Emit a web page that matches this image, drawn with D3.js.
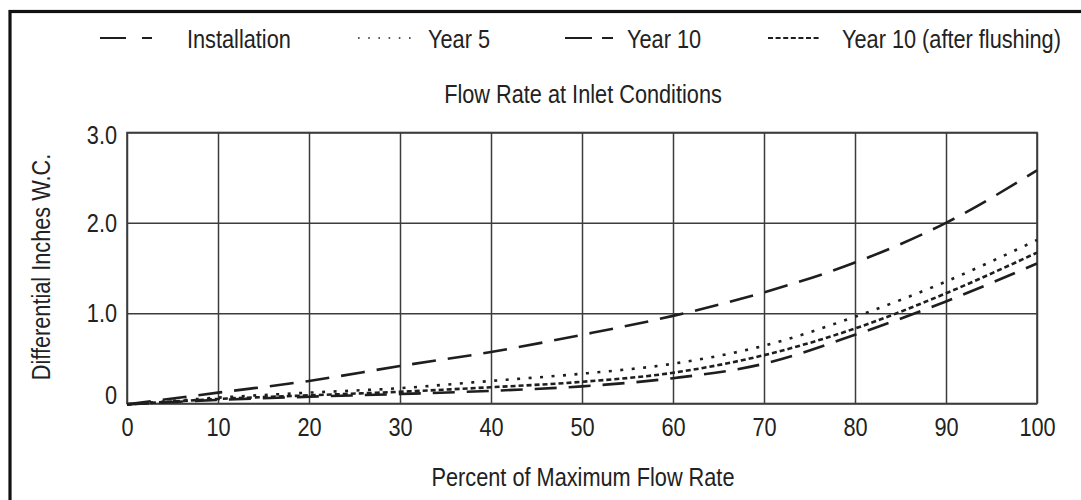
<!DOCTYPE html>
<html>
<head>
<meta charset="utf-8">
<script src="https://cdn.jsdelivr.net/npm/d3@7"></script>
<style>
  html, body { margin: 0; padding: 0; background: #fff; }
  svg text { font-family: "Liberation Sans", Arial, sans-serif; fill: #222; }
</style>
</head>
<body>
<svg id="chart" width="1081" height="500"></svg>
<script>
// ---- data ----
const flowPercent = [0, 10, 20, 30, 40, 50, 60, 70, 80, 90, 100];
const installation = [-0.01, 0.12, 0.25, 0.415, 0.57, 0.76, 0.97, 1.23, 1.56, 2.0, 2.58];
const year5 = [-0.01, 0.065, 0.12, 0.17, 0.25, 0.33, 0.44, 0.64, 0.96, 1.35, 1.81];
const year10 = [-0.01, 0.04, 0.075, 0.105, 0.14, 0.19, 0.28, 0.44, 0.76, 1.13, 1.55];
const year10Flushed = [-0.01, 0.05, 0.09, 0.13, 0.18, 0.24, 0.34, 0.535, 0.83, 1.22, 1.67];
const seriesNames = ["Installation", "Year 5", "Year 10", "Year 10 (after flushing)"];
const xTicks = [0, 10, 20, 30, 40, 50, 60, 70, 80, 90, 100];
const yTicks = [0, 1, 2, 3];
const yTickLabels = ["0", "1.0", "2.0", "3.0"];
const chartTitle = "Flow Rate at Inlet Conditions";
const xTitle = "Percent of Maximum Flow Rate";
const yTitle = "Differential Inches W.C.";

// ---- styling ----
const FS = 26.5;
const NARROW = 0.82; // horizontal squeeze to mimic a condensed face
const ink = "#1e1e1e";
const gridCol = "#3c3c3c";
const seriesData = [installation, year5, year10, year10Flushed];
const seriesDash = ["24,12", "3,8.5", "22,12", "5,3"];
const legendDash = ["26,16,10,100", "1.6,8.6", "27,10,11,100", "5,2.6"];
const legendWidth = [1.9, 1.6, 1.9, 1.9];
const legendLineX = [[100, 152], [358, 411], [565, 613], [768, 821]];
const legendTextX = [187, 428, 627, 842];

const svg = d3.select("#chart");

function narrowText(parent, tx, ty, str, anchor, rot) {
  const t = parent.append("text")
    .attr("transform", `translate(${tx},${ty})` + (rot ? ` rotate(${rot})` : "") + ` scale(${NARROW},1)`)
    .attr("text-anchor", anchor || "start")
    .attr("font-size", FS)
    .text(str);
  return t;
}

// outer frame (only left and top edges visible)
svg.append("rect")
  .attr("x", 10).attr("y", 11.5)
  .attr("width", 1300).attr("height", 700)
  .attr("fill", "none").attr("stroke", "#111").attr("stroke-width", 3.2);

const x = d3.scaleLinear().domain([0, 100]).range([127, 1037]);
const y = d3.scaleLinear().domain([0, 3]).range([403.5, 132.5]);

// grid via axes
const gx = svg.append("g")
  .attr("transform", `translate(0,${y(0)})`)
  .call(d3.axisBottom(x).tickValues(xTicks).tickFormat(d3.format("d"))
    .tickSizeInner(-(y(0) - y(3))).tickSizeOuter(0).tickPadding(14));
gx.select(".domain").remove();
gx.selectAll(".tick line").attr("stroke", gridCol).attr("stroke-width", 1.5);
gx.selectAll(".tick text").attr("font-size", FS).style("fill", "#222")
  .attr("transform", `scale(${NARROW},1)`);

const gy = svg.append("g")
  .attr("transform", `translate(${x(0)},0)`)
  .call(d3.axisLeft(y).tickValues(yTicks).tickFormat((d, i) => yTickLabels[i])
    .tickSizeInner(-(x(100) - x(0))).tickSizeOuter(0).tickPadding(10));
gy.select(".domain").remove();
gy.selectAll(".tick line").attr("stroke", gridCol).attr("stroke-width", 1.5);
gy.selectAll(".tick text").attr("font-size", FS).style("fill", "#222")
  .attr("x", -10 / NARROW)
  .attr("transform", `scale(${NARROW},1)`)
  .attr("dy", d => d === 0 ? "0em" : (d === 3 ? "0.42em" : "0.32em"));

// plot border
svg.append("rect")
  .attr("x", x(0)).attr("y", y(3))
  .attr("width", x(100) - x(0)).attr("height", y(0) - y(3))
  .attr("fill", "none").attr("stroke", gridCol).attr("stroke-width", 1.6);

// curves
const line = d3.line()
  .x((d, i) => x(flowPercent[i]))
  .y(d => y(d))
  .curve(d3.curveMonotoneX);

seriesData.forEach((s, k) => {
  svg.append("path")
    .datum(s)
    .attr("d", line)
    .attr("fill", "none")
    .attr("stroke", ink)
    .attr("stroke-width", 2.6)
    .attr("stroke-dasharray", seriesDash[k]);
});

// legend
const legY = 38;
seriesNames.forEach((name, k) => {
  svg.append("line")
    .attr("x1", legendLineX[k][0]).attr("x2", legendLineX[k][1])
    .attr("y1", legY).attr("y2", legY)
    .attr("stroke", ink).attr("stroke-width", legendWidth[k])
    .attr("stroke-dasharray", legendDash[k]);
  narrowText(svg, legendTextX[k], 48, name, "start");
});

// titles
const cx = (x(0) + x(100)) / 2 + 1;
narrowText(svg, cx, 103, chartTitle, "middle");
narrowText(svg, cx, 486, xTitle, "middle");
narrowText(svg, 50, (y(0) + y(3)) / 2 - 1, yTitle, "middle", -90);
</script>
</body>
</html>
